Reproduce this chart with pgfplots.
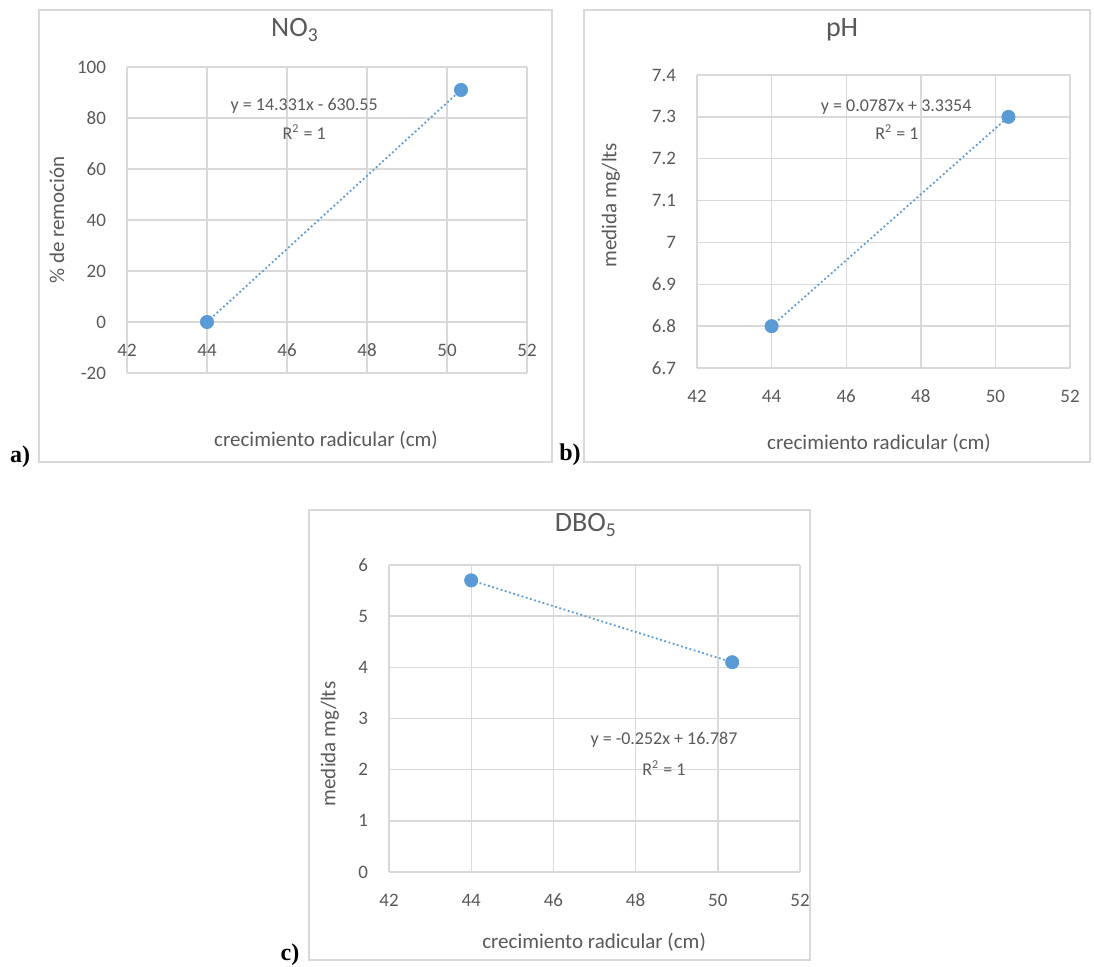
\documentclass[border=0pt]{standalone}
\usepackage{fontspec}
\setmainfont{Carlito}
\newfontfamily\panelfont{Liberation Serif}
\usepackage{pgfplots}
\pgfplotsset{compat=1.18}

\definecolor{exblue}{HTML}{5B9BD5}
\definecolor{gridc}{HTML}{D9D9D9}
\definecolor{txt}{HTML}{595959}

\pgfplotsset{
  excel/.style={
    scale only axis, xmin=42, xmax=52, xtick={42,44,...,52},
    grid=major, grid style={draw=gridc, line width=0.7pt},
    axis line style={draw=none}, major tick length=0pt,
    tick label style={font=\fontsize{9.5}{11}\selectfont, text=txt},
    /pgf/number format/assume math mode=true,
    xticklabel style={anchor=center, yshift=-14pt},
    yticklabel style={anchor=east, xshift=-7pt},
    label style={font=\fontsize{10.5}{12}\selectfont, text=txt},
    title style={font=\fontsize{14}{16}\selectfont, text=txt, anchor=center},
    xlabel style={anchor=center},
    ylabel style={anchor=center},
  },
  pts/.style={exblue, only marks, mark=*, mark size=3.3pt},
  trend/.style={exblue, line width=0.9pt, dash pattern=on 0.9pt off 1.3pt},
}
\tikzset{eq/.style={font=\fontsize{9}{11}\selectfont, text=txt}}

\begin{document}
\begin{tikzpicture}
\useasboundingbox (0,0) rectangle (547pt,-483pt);

% chart frames
\draw[gridc, line width=0.7pt] (19.5pt,-5pt) rectangle (276pt,-231pt);
\draw[gridc, line width=0.7pt] (292pt,-5pt) rectangle (545pt,-231pt);
\draw[gridc, line width=0.7pt] (154.5pt,-255pt) rectangle (405pt,-480pt);

% a) NO3
\begin{axis}[excel, at={(63.5pt,-186.5pt)}, anchor=south west,
  width=200pt, height=153pt,
  ymin=-20, ymax=100, ytick={-20,0,...,100},
  xticklabel style={yshift=25.5pt},
  title={NO\textsubscript{3}},
  title style={at={(axis description cs:0.42,1.082)}},
  xlabel={crecimiento radicular (cm)},
  xlabel style={at={(axis description cs:0.4975,-0.219)}},
  ylabel={\% de remoción},
  ylabel style={at={(axis description cs:-0.175,0.5)}}]
\addplot[trend] coordinates {(44,0) (50.35,91)};
\addplot[pts] coordinates {(44,0) (50.35,91)};
\node[eq] at (axis cs:46.43,84.7) {y = 14.331x - 630.55};
\node[eq] at (axis cs:46.43,74.5) {R\textsuperscript{2} = 1};
\end{axis}

% b) pH
\begin{axis}[excel, at={(348.5pt,-184pt)}, anchor=south west,
  width=186.5pt, height=146.5pt,
  ymin=6.7, ymax=7.4, ytick={6.7,6.8,6.9,7,7.1,7.2,7.3,7.4},
  title={pH},
  title style={at={(axis description cs:0.389,1.113)}},
  xlabel={crecimiento radicular (cm)},
  xlabel style={at={(axis description cs:0.488,-0.256)}},
  ylabel={medida mg/lts},
  ylabel style={at={(axis description cs:-0.231,0.556)}}]
\addplot[trend] coordinates {(44,6.8) (50.35,7.3)};
\addplot[pts] coordinates {(44,6.8) (50.35,7.3)};
\node[eq] at (axis cs:47.34,7.324) {y = 0.0787x + 3.3354};
\node[eq] at (axis cs:47.36,7.264) {R\textsuperscript{2} = 1};
\end{axis}

% c) DBO5
\begin{axis}[excel, at={(194.5pt,-436pt)}, anchor=south west,
  width=205.5pt, height=153.5pt,
  ymin=0, ymax=6, ytick={0,1,...,6},
  title={DBO\textsubscript{5}},
  title style={at={(axis description cs:0.479,1.091)}},
  xlabel={crecimiento radicular (cm)},
  xlabel style={at={(axis description cs:0.499,-0.228)}},
  ylabel={medida mg/lts},
  ylabel style={at={(axis description cs:-0.144,0.417)}}]
\addplot[trend] coordinates {(44,5.7) (50.35,4.1)};
\addplot[pts] coordinates {(44,5.7) (50.35,4.1)};
\node[eq] at (axis cs:48.69,2.58) {y = -0.252x + 16.787};
\node[eq] at (axis cs:48.69,2.03) {R\textsuperscript{2} = 1};
\end{axis}

% panel letters
\node[font=\panelfont\bfseries\fontsize{12}{14}\selectfont] at (10pt,-228.5pt) {a)};
\node[font=\panelfont\bfseries\fontsize{12}{14}\selectfont] at (285pt,-227.5pt) {b)};
\node[font=\panelfont\bfseries\fontsize{12}{14}\selectfont] at (145pt,-477.5pt) {c)};
\end{tikzpicture}
\end{document}
